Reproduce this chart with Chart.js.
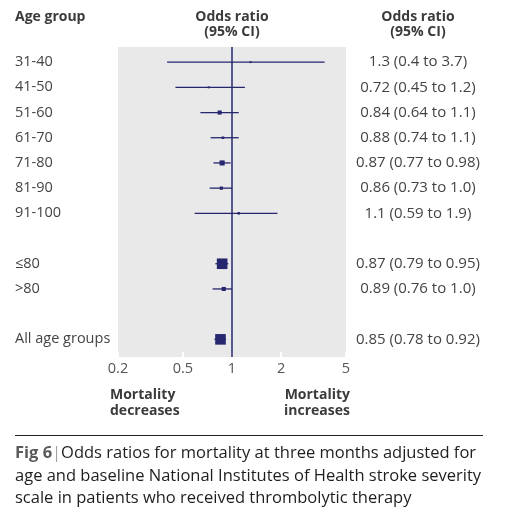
<!DOCTYPE html>
<html><head><meta charset="utf-8">
<script src="https://cdn.jsdelivr.net/npm/chart.js@4.4.1/dist/chart.umd.min.js"></script>
<style>
html,body{margin:0;padding:0;background:#fff;}
#wrap{position:relative;width:509px;height:516px;overflow:hidden;font-family:"Open Sans",sans-serif;}
#c{position:absolute;left:0;top:0;}
.t{position:absolute;white-space:nowrap;color:#3b3b3b;}
.b{font-weight:700;font-size:14px;line-height:15px;}
.ctr{transform:translateX(-50%);text-align:center;}
#rule{position:absolute;left:15px;top:435px;width:468px;height:1px;background:#222;}
#cap{position:absolute;left:15px;top:441px;white-space:nowrap;font-size:16.5px;line-height:22.5px;color:#1e1e1e;}
#cap .fig{font-weight:700;color:#5a5a5a;}
#cap .bar{color:#777;font-weight:300;}
</style></head>
<body><div id="wrap">
<canvas id="c" width="509" height="516"></canvas>
<div class="t b" style="left:15px;top:8px;">Age group</div>
<div class="t b ctr" style="left:232px;top:8px;">Odds ratio<br>(95% CI)</div>
<div class="t b ctr" style="left:418px;top:8px;">Odds ratio<br>(95% CI)</div>
<div class="t b" style="left:110px;top:386px;line-height:16px;">Mortality<br>decreases</div>
<div class="t b" style="right:159px;top:386px;line-height:16px;text-align:right;">Mortality<br>increases</div>
<div id="rule"></div>
<div id="cap"><span class="fig">Fig 6</span><span class="bar">|</span>Odds ratios for mortality at three months adjusted for<br>age and baseline National Institutes of Health stroke severity<br>scale in patients who received thrombolytic therapy</div>
</div>
<script>
// ---- data ----
const ageGroups = ['31-40','41-50','51-60','61-70','71-80','81-90','91-100','≤80','>80','All age groups'];
const rowPos    = [0,1,2,3,4,5,6,8,9,11];
const oddsRatio = [1.3,0.72,0.84,0.88,0.87,0.86,1.1,0.87,0.89,0.85];
const ciLow     = [0.4,0.45,0.64,0.74,0.77,0.73,0.59,0.79,0.76,0.78];
const ciHigh    = [3.7,1.2,1.1,1.1,0.98,1.0,1.9,0.95,1.0,0.92];
const ciText    = ['1.3 (0.4 to 3.7)','0.72 (0.45 to 1.2)','0.84 (0.64 to 1.1)','0.88 (0.74 to 1.1)','0.87 (0.77 to 0.98)','0.86 (0.73 to 1.0)','1.1 (0.59 to 1.9)','0.87 (0.79 to 0.95)','0.89 (0.76 to 1.0)','0.85 (0.78 to 0.92)'];
const weight    = [1.4,1.4,2.9,1.8,3.6,2.3,1.8,7.5,2.9,7.5];
const xTicks    = [0.2,0.5,1,2,5];
const xTickLabels = ['0.2','0.5','1','2','5'];

const NAVY = '#26276e';
const Y_MIN = -0.6, Y_MAX = 11.7;

const datasets = [];
// reference line at OR = 1
datasets.push({data:[{x:1,y:Y_MIN},{x:1,y:Y_MAX}],showLine:true,borderColor:NAVY,borderWidth:1.5,pointRadius:0,order:2});
// CI lines
rowPos.forEach((p,i)=>{
  datasets.push({data:[{x:ciLow[i],y:p},{x:ciHigh[i],y:p}],showLine:true,borderColor:NAVY,borderWidth:1.3,pointRadius:0,order:1});
});
// markers
datasets.push({data:rowPos.map((p,i)=>({x:oddsRatio[i],y:p})),pointStyle:'rect',pointRadius:weight,backgroundColor:NAVY,borderColor:NAVY,borderWidth:0,order:0});

const bgPlugin = {
  id:'bg',
  beforeDatasetsDraw(chart){
    const {ctx,chartArea:a,scales} = chart;
    ctx.save();
    ctx.fillStyle = '#e9e9e9';
    ctx.fillRect(a.left,a.top,a.right-a.left,a.bottom-a.top);
    ctx.strokeStyle = '#ffffff';
    ctx.lineWidth = 2;
    scales.x.ticks.forEach(t=>{
      const px = scales.x.getPixelForValue(t.value);
      ctx.beginPath(); ctx.moveTo(px,a.bottom-5); ctx.lineTo(px,a.bottom); ctx.stroke();
    });
    ctx.restore();
  }
};

const labelFont = {family:'"Open Sans", sans-serif', size:14.5};
const valueFont = {family:'"Open Sans", sans-serif', size:15};
new Chart(document.getElementById('c'),{
  type:'scatter',
  data:{datasets},
  plugins:[bgPlugin],
  options:{
    responsive:false, animation:false, events:[],
    layout:{padding:{left:15,top:47,right:0,bottom:0}},
    plugins:{legend:{display:false},tooltip:{enabled:false}},
    scales:{
      x:{type:'logarithmic',min:0.2,max:5,
        afterBuildTicks:s=>{s.ticks = xTicks.map(v=>({value:v}));},
        afterFit:s=>{s.height=159;},
        grid:{display:false,drawTicks:false},border:{display:false},
        ticks:{padding:3,color:'#555',font:labelFont,maxRotation:0,autoSkip:false,
          callback:(v)=>xTickLabels[xTicks.indexOf(v)]}},
      y:{type:'linear',position:'left',min:Y_MIN,max:Y_MAX,reverse:true,
        afterBuildTicks:s=>{s.ticks = rowPos.map(v=>({value:v}));},
        afterFit:s=>{s.width=103;},
        grid:{display:false,drawTicks:false},border:{display:false},
        ticks:{crossAlign:'far',color:'#444',font:labelFont,autoSkip:false,
          callback:(v)=>ageGroups[rowPos.indexOf(v)]}},
      y2:{type:'linear',position:'right',min:Y_MIN,max:Y_MAX,reverse:true,
        afterBuildTicks:s=>{s.ticks = rowPos.map(v=>({value:v}));},
        afterFit:s=>{s.width=163;},
        grid:{display:false,drawTicks:false},border:{display:false},
        ticks:{crossAlign:'center',padding:10,color:'#444',font:valueFont,autoSkip:false,
          callback:(v)=>ciText[rowPos.indexOf(v)]}}
    }
  }
});
</script>
</body></html>
